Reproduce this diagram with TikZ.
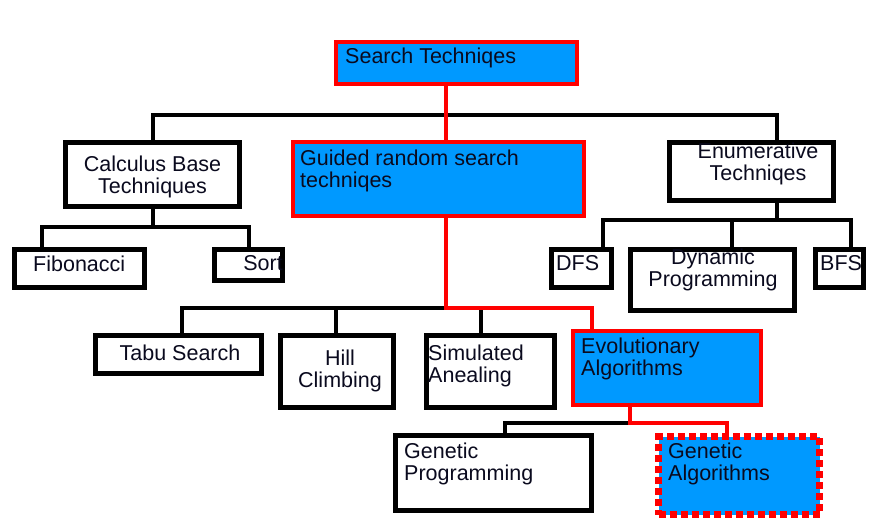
\documentclass[tikz,border=0pt]{standalone}
\usepackage{fontspec}
\setmainfont{Liberation Sans}
\definecolor{myblue}{RGB}{0,153,255}
\definecolor{myred}{RGB}{255,0,0}
\definecolor{mytext}{RGB}{10,10,30}
\begin{document}
\begin{tikzpicture}[x=1pt,y=-1pt,
  bbox/.style={draw=black,line width=5pt,fill=white,inner sep=0pt},
  rbox/.style={draw=myred,line width=4pt,fill=myblue,inner sep=0pt},
  gbox/.style={draw=myred,line width=7pt,fill=myblue,inner sep=0pt,dash pattern=on 7pt off 4pt},
  txt/.style={font=\fontsize{21.5}{22}\selectfont,inner sep=0pt,text=mytext},
  bl/.style={line width=4pt,draw=black},
  rl/.style={line width=4pt,draw=myred}]
\useasboundingbox[fill=white] (0,0) rectangle (880,529);
% boxes
\node[rbox,minimum width=241pt,minimum height=42pt] (search) at (456.5,63) {};
\node[bbox,minimum width=174pt,minimum height=64pt] (calc) at (152.5,174.5) {};
\node[rbox,minimum width=291pt,minimum height=74pt] (guided) at (438.5,179) {};
\node[bbox,minimum width=164pt,minimum height=58pt] (enum) at (751.5,171.5) {};
\node[bbox,minimum width=130pt,minimum height=38pt] (fib) at (79.5,268.5) {};
\node[bbox,minimum width=68pt,minimum height=31pt] (sort) at (248.5,265) {};
\node[bbox,minimum width=60pt,minimum height=38pt] (dfs) at (581.5,268.5) {};
\node[bbox,minimum width=164pt,minimum height=61pt] (dyn) at (712.5,280) {};
\node[bbox,minimum width=48pt,minimum height=38pt] (bfs) at (839.5,268.5) {};
\node[bbox,minimum width=166pt,minimum height=38pt] (tabu) at (178.5,354.5) {};
\node[bbox,minimum width=113pt,minimum height=72pt] (hill) at (337,371.5) {};
\node[bbox,minimum width=128pt,minimum height=72pt] (sim) at (490.5,371.5) {};
\node[rbox,minimum width=188pt,minimum height=74pt] (evo) at (667,368) {};
\node[bbox,minimum width=196pt,minimum height=75pt] (gp) at (493.5,473) {};
\node[gbox,minimum width=161pt,minimum height=78pt] (ga) at (739,475.5) {};
% junction coordinates
\coordinate (sx) at (446,115);
\coordinate (hr) at (777,115);
\coordinate (cj) at (152.5,227);
\coordinate (cl) at (42,227);
\coordinate (cr) at (248.5,227);
\coordinate (ej) at (777,220);
\coordinate (el) at (603,220);
\coordinate (em) at (732,220);
\coordinate (er) at (851,220);
\coordinate (g0) at (446,308);
\coordinate (gl) at (182,308);
\coordinate (gh) at (336,308);
\coordinate (gs) at (481,308);
\coordinate (ge) at (592,308);
\coordinate (v0) at (630,423);
\coordinate (vl) at (505,423);
\coordinate (vr) at (727,423);
% connectors
\draw[bl] (calc.north) |- (hr) -- (hr |- enum.north);
\draw[rl] (sx |- search.south) -- (sx |- guided.north);
\draw[bl] (calc.south) -- (cj);
\draw[bl] (cl |- fib.north) -- (cl) -- (cr) -- (sort.north);
\draw[bl] (ej |- enum.south) -- (ej);
\draw[bl] (el |- dfs.north) -- (el) -- (er) -- (er |- bfs.north);
\draw[bl] (em) -- (em |- dyn.north);
\draw[bl] (gl |- tabu.north) -- (gl) -- (g0);
\draw[bl] (gh) -- (gh |- hill.north);
\draw[bl] (gs) -- (gs |- sim.north);
\draw[rl] (g0 |- guided.south) -- (g0) -- (ge) -- (ge |- evo.north);
\draw[bl] (vl |- gp.north) -- (vl) -- (v0);
\draw[rl] (v0 |- evo.south) -- (v0) -- (vr) -- (vr |- ga.north);
% texts
\node[txt,anchor=north west] (tSearch) at (345,48) {Search Techniqes};
\node[txt,align=center,anchor=north] (tCalc) at (152.5,155.5) {Calculus Base\\Techniques};
\node[txt,align=left,anchor=north west] (tGuided) at (300,149.5) {Guided random search\\techniqes};
\node[txt,align=center,anchor=north] (tEnum) at (758,142.5) {Enumerative\\Techniqes};
\node[txt,anchor=north west] (tFib) at (33,255.5) {Fibonacci};
\node[txt,anchor=north east] (tSort) at (283,255.5) {Sort};
\node[txt,anchor=north west] (tDFS) at (556,255.5) {DFS};
\node[txt,align=center,anchor=north] (tDyn) at (713,248.5) {Dynamic\\Programming};
\node[txt,anchor=north west] (tBFS) at (820,255.5) {BFS};
\node[txt,anchor=north] (tTabu) at (180,344.5) {Tabu Search};
\node[txt,align=center,anchor=north] (tHill) at (340,349.5) {Hill\\Climbing};
\node[txt,align=left,anchor=north west] (tSim) at (428,344.5) {Simulated\\Anealing};
\node[txt,align=left,anchor=north west] (tEvo) at (581,337.5) {Evolutionary\\Algorithms};
\node[txt,align=left,anchor=north west] (tGP) at (404,442.5) {Genetic\\Programming};
\node[txt,align=left,anchor=north west] (tGA) at (668,442.5) {Genetic\\Algorithms};
\end{tikzpicture}
\end{document}
